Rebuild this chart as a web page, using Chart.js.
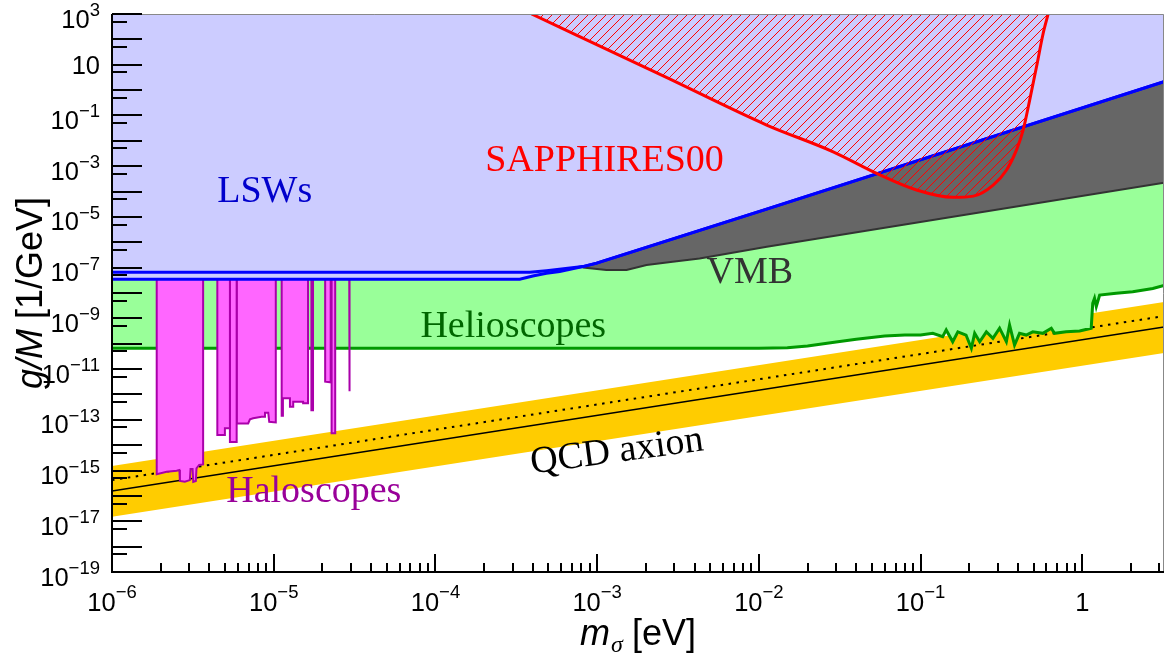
<!DOCTYPE html>
<html>
<head>
<meta charset="utf-8">
<script src="https://cdn.jsdelivr.net/npm/chart.js@4.4.1/dist/chart.umd.min.js"></script>
<style>
  html, body { margin: 0; padding: 0; background: #fff; }
</style>
</head>
<body>
<canvas id="myChart" width="1167" height="662"></canvas>
<script>
// axis ranges
const xMin = 1e-6, xMax = 3.2;
const yMin = 1e-19, yMax = 1e3;

// tick labels (base, exponent)
const xTickExp = [-6, -5, -4, -3, -2, -1, 0];
const xTickLabels = [['10', '\u22126'], ['10', '\u22125'], ['10', '\u22124'], ['10', '\u22123'], ['10', '\u22122'], ['10', '\u22121'], ['1', '']];
const yTickExp = [3, 1, -1, -3, -5, -7, -9, -11, -13, -15, -17, -19];
const yTickLabels = [['10', '3'], ['10', ''], ['10', '\u22121'], ['10', '\u22123'], ['10', '\u22125'], ['10', '\u22127'], ['10', '\u22129'],
  ['10', '\u221211'], ['10', '\u221213'], ['10', '\u221215'], ['10', '\u221217'], ['10', '\u221219']];

// QCD axion band and model lines (straight in log-log)
const qcdMass = [1e-6, 3.2];
const qcdBandUpper = [1.5e-15, 4.4e-9];
const qcdBandLower = [1.5e-17, 4.3e-11];
const qcdSolid = [1.55e-16, 4.6e-10];
const qcdDotted = [4.2e-16, 1.23e-9];

// Helioscopes
const helioMass = [1e-6, 1e-2, 1.5e-2, 2e-2, 3e-2, 4e-2, 6e-2, 8e-2, 0.1, 0.119, 0.137, 0.144, 0.158, 0.170, 0.191, 0.206,
  0.216, 0.232, 0.255, 0.280, 0.308, 0.339, 0.355, 0.381, 0.409, 0.450, 0.494, 0.570, 0.643, 0.673, 0.794, 0.962,
  1.135, 1.16, 1.19, 1.22, 1.28, 1.62, 2.05, 2.73, 3.2];
const helioG = [6.6e-11, 6.6e-11, 6.9e-11, 8.1e-11, 1.17e-10, 1.5e-10, 2.0e-10, 2.2e-10, 2.2e-10, 2.57e-10, 1.9e-10, 3.5e-10,
  1.2e-10, 2.95e-10, 2.2e-10, 6.6e-11, 2.57e-10, 1.2e-10, 2.95e-10, 1.62e-10, 4.1e-10, 1.2e-10, 5.5e-10, 8.9e-11,
  2.57e-10, 2.2e-10, 2.95e-10, 2.57e-10, 4.1e-10, 2.57e-10, 2.95e-10, 3.2e-10, 4.1e-10, 3.9e-9, 6.2e-9, 2.9e-9,
  8.3e-9, 9.8e-9, 1.12e-8, 1.5e-8, 2.0e-8];

// LSWs (two curves)
const lswUpperMass = [1e-6, 3.83e-4, 4.86e-4, 8.15e-4, 9.93e-4, 1.117e-2, 3.2];
const lswUpperG = [6.6e-8, 6.6e-8, 7.6e-8, 1.1e-7, 1.5e-7, 2.04e-5, 2.15];
const lswLowerMass = [1e-6, 3.32e-4, 4.0e-4, 4.86e-4, 5.87e-4, 8.15e-4, 9.93e-4, 1.117e-2, 3.2];
const lswLowerG = [3.5e-8, 3.5e-8, 4.7e-8, 6.0e-8, 7.1e-8, 1.1e-7, 1.5e-7, 2.04e-5, 2.15];

// VMB
const vmbMass = [8.15e-4, 1.14e-3, 1.52e-3, 2.02e-3, 2.93e-3, 4.3e-3, 1.12e-2, 3.2];
const vmbG = [1.02e-7, 8.1e-8, 8.1e-8, 1.26e-7, 1.7e-7, 2.3e-7, 6.6e-7, 2.2e-4];

// SAPPHIRES00
const sappMass = [3.93e-4, 2.68e-3, 1.117e-2, 2.88e-2, 5.35e-2, 9.44e-2, 0.159, 0.212, 0.281, 0.340, 0.392, 0.431, 0.473, 0.521, 0.573, 0.615];
const sappG = [1e3, 3.16, 0.042, 3.7e-3, 5.2e-4, 1.15e-4, 5.9e-5, 6.6e-5, 1.8e-4, 7.1e-4, 4.4e-3, 2.7e-2, 0.41, 8.3, 174, 1e3];

// Haloscopes (mass, coupling) outlines
const haloA = [[1.89e-6, 1e-7], [1.89e-6, 7.1e-16], [2.18e-6, 8.9e-16], [2.51e-6, 9.8e-16], [2.61e-6, 1.05e-15], [2.63e-6, 3.9e-16],
  [2.82e-6, 3.6e-16], [3.03e-6, 4.2e-16], [3.06e-6, 1.15e-15], [3.15e-6, 1.15e-15], [3.18e-6, 3.6e-16], [3.30e-6, 3.9e-16],
  [3.33e-6, 1.23e-15], [3.46e-6, 1.66e-15], [3.66e-6, 1.74e-15], [3.66e-6, 1e-7]];
const haloB = [[4.48e-6, 1e-7], [4.48e-6, 2.5e-14], [4.99e-6, 2.5e-14], [4.99e-6, 4.6e-14], [5.36e-6, 4.6e-14], [5.36e-6, 1e-7]];
const haloC = [[5.36e-6, 1e-7], [5.36e-6, 1.35e-14], [5.9e-6, 1.35e-14], [5.9e-6, 1e-7]];
const haloD = [[5.9e-6, 1e-7], [5.9e-6, 7.2e-14], [6.95e-6, 7.2e-14], [7.13e-6, 1.05e-13], [7.46e-6, 1.15e-13], [8.41e-6, 1.32e-13],
  [8.83e-6, 1.32e-13], [8.83e-6, 1.9e-13], [9.25e-6, 1.9e-13], [9.38e-6, 8.3e-14], [1.03e-5, 7.9e-14], [1.03e-5, 1e-7]];
const haloE = [[1.12e-5, 1e-7], [1.12e-5, 1.45e-13], [1.14e-5, 1.45e-13], [1.14e-5, 7.1e-13], [1.26e-5, 7.1e-13], [1.26e-5, 3.3e-13],
  [1.32e-5, 3.3e-13], [1.32e-5, 5.1e-13], [1.52e-5, 5.1e-13], [1.52e-5, 4.5e-13], [1.63e-5, 4.5e-13], [1.63e-5, 1e-7]];
const haloF = [[1.71e-5, 1e-7], [1.71e-5, 2.4e-13], [1.75e-5, 2.4e-13], [1.75e-5, 1e-7]];
const haloG = [[2.08e-5, 1e-7], [2.08e-5, 3.2e-12], [2.25e-5, 3.0e-12], [2.25e-5, 1e-7]];
const haloH = [[2.28e-5, 1e-7], [2.28e-5, 2.95e-14], [2.40e-5, 2.95e-14], [2.40e-5, 1e-7]];
const haloI = [[2.93e-5, 1e-7], [2.93e-5, 1.35e-12], [2.95e-5, 1.35e-12], [2.95e-5, 1e-7]];

// region labels, placed in data coordinates
const regionLabels = [
  { text: 'LSWs', m: 8.8e-6, g: 4.0e-5, color: '#0000cc', angle: 0 },
  { text: 'SAPPHIRES00', m: 1.11e-3, g: 6.6e-4, color: '#ff0000', angle: 0 },
  { text: 'VMB', m: 8.8e-3, g: 2.4e-8, color: '#333333', angle: 0 },
  { text: 'Helioscopes', m: 3.03e-4, g: 1.8e-10, color: '#006600', angle: 0 },
  { text: 'Haloscopes', m: 1.77e-5, g: 5.9e-17, color: '#990099', angle: 0 },
  { text: 'QCD axion', m: 1.35e-3, g: 2.2e-15, color: '#000000', angle: -7.7 }
];

const ctx = document.getElementById('myChart').getContext('2d');

function zip(ms, gs) {
  return ms.map((m, i) => ({ x: m, y: gs[i] }));
}
function pairs(list) {
  return list.map(p => ({ x: p[0], y: p[1] }));
}

function hatch() {
  const c = document.createElement('canvas');
  c.width = 9; c.height = 9;
  const g = c.getContext('2d');
  g.strokeStyle = '#ff0000';
  g.lineWidth = 1;
  g.beginPath();
  g.moveTo(0, 9); g.lineTo(9, 0);
  g.moveTo(-1, 1); g.lineTo(1, -1);
  g.moveTo(8, 10); g.lineTo(10, 8);
  g.stroke();
  return ctx.createPattern(c, 'repeat');
}

const haloStyle = {
  borderColor: '#aa00aa',
  backgroundColor: '#ff66ff',
  borderWidth: 2,
  fill: 'end',
  order: 5
};

// larger order = drawn further back
const datasets = [
  { label: 'SAPPHIRES00', data: zip(sappMass, sappG), borderColor: '#ff0000', borderWidth: 3,
    backgroundColor: hatch(), fill: 'end', cubicInterpolationMode: 'monotone', order: 1 },
  { label: 'LSW upper', data: zip(lswUpperMass, lswUpperG), borderColor: '#0000ff', borderWidth: 3, fill: false, order: 2 },
  { label: 'LSWs', data: zip(lswLowerMass, lswLowerG), borderColor: '#0000ff', borderWidth: 3,
    backgroundColor: '#ccccff', fill: 'end', order: 3 },
  { label: 'VMB', data: zip(vmbMass, vmbG), borderColor: '#333333', borderWidth: 2,
    backgroundColor: '#666666', fill: 'end', order: 4 },
  Object.assign({ label: 'Halo A', data: pairs(haloA) }, haloStyle),
  Object.assign({ label: 'Halo B', data: pairs(haloB) }, haloStyle),
  Object.assign({ label: 'Halo C', data: pairs(haloC) }, haloStyle),
  Object.assign({ label: 'Halo D', data: pairs(haloD) }, haloStyle),
  Object.assign({ label: 'Halo E', data: pairs(haloE) }, haloStyle),
  Object.assign({ label: 'Halo F', data: pairs(haloF) }, haloStyle),
  Object.assign({ label: 'Halo G', data: pairs(haloG) }, haloStyle),
  Object.assign({ label: 'Halo H', data: pairs(haloH) }, haloStyle),
  Object.assign({ label: 'Halo I', data: pairs(haloI) }, haloStyle),
  { label: 'Helioscopes', data: zip(helioMass, helioG), borderColor: '#009900', borderWidth: 3,
    backgroundColor: '#99ff99', fill: 'end', order: 6 },
  { label: 'QCD dotted', data: zip(qcdMass, qcdDotted), borderColor: '#000000', borderWidth: 2,
    borderDash: [2.5, 5.5], fill: false, order: 7 },
  { label: 'QCD solid', data: zip(qcdMass, qcdSolid), borderColor: '#000000', borderWidth: 1.5, fill: false, order: 7 },
  { label: 'QCD band', data: zip(qcdMass, qcdBandUpper), borderWidth: 0, borderColor: 'rgba(0,0,0,0)',
    backgroundColor: '#ffcc00', fill: 17, order: 8 },
  { label: 'QCD band low', data: zip(qcdMass, qcdBandLower), borderWidth: 0, borderColor: 'rgba(0,0,0,0)', fill: false, order: 8 }
];

function drawPower(c, base, exp, x, baseline, align, big, small, raise) {
  c.font = big + 'px "Liberation Sans", Arial, sans-serif';
  const wb = c.measureText(base).width;
  c.font = small + 'px "Liberation Sans", Arial, sans-serif';
  const we = exp ? c.measureText(exp).width : 0;
  const total = wb + we;
  let x0 = align === 'right' ? x - total : x - total / 2;
  c.textAlign = 'left';
  c.textBaseline = 'alphabetic';
  c.font = big + 'px "Liberation Sans", Arial, sans-serif';
  c.fillText(base, x0, baseline);
  if (exp) {
    c.font = small + 'px "Liberation Sans", Arial, sans-serif';
    c.fillText(exp, x0 + wb, baseline - raise);
  }
}

const labelPlugin = {
  id: 'regionLabels',
  afterDatasetsDraw(chart) {
    const c = chart.ctx;
    const { x, y } = chart.scales;
    c.save();
    c.font = '38px "Liberation Serif", "Times New Roman", serif';
    c.textAlign = 'center';
    c.textBaseline = 'alphabetic';
    for (const l of regionLabels) {
      c.save();
      c.translate(x.getPixelForValue(l.m), y.getPixelForValue(l.g));
      c.rotate(l.angle * Math.PI / 180);
      c.fillStyle = l.color;
      c.fillText(l.text, 0, 0);
      c.restore();
    }
    c.restore();
  }
};

const axesPlugin = {
  id: 'rootAxes',
  afterDraw(chart) {
    const c = chart.ctx;
    const a = chart.chartArea;
    const { x, y } = chart.scales;
    c.save();
    // thin frame on top and right
    c.strokeStyle = '#888888';
    c.lineWidth = 1;
    c.beginPath();
    c.moveTo(a.left, a.top + 0.5); c.lineTo(a.right - 0.5, a.top + 0.5); c.lineTo(a.right - 0.5, a.bottom);
    c.stroke();

    c.strokeStyle = '#000000';
    c.lineWidth = 2;
    c.beginPath();
    // x ticks: decades and 2..9 subdivisions
    for (let e = -6; e <= 0; e++) {
      for (let k = 1; k <= 9; k++) {
        const v = k * Math.pow(10, e);
        if (v > xMax) break;
        const px = Math.round(x.getPixelForValue(v));
        const len = k === 1 ? 18 : 9;
        c.moveTo(px, a.bottom); c.lineTo(px, a.bottom - len);
      }
    }
    // y ticks: decades and 5x subdivisions
    for (let e = -19; e <= 3; e++) {
      const py = Math.round(y.getPixelForValue(Math.pow(10, e)));
      c.moveTo(a.left, py); c.lineTo(a.left + 30, py);
      const v5 = 5 * Math.pow(10, e);
      if (v5 < yMax) {
        const p5 = Math.round(y.getPixelForValue(v5));
        c.moveTo(a.left, p5); c.lineTo(a.left + 15, p5);
      }
    }
    c.stroke();

    // axis lines
    c.beginPath();
    c.moveTo(a.left, a.top); c.lineTo(a.left, a.bottom); c.lineTo(a.right, a.bottom);
    c.stroke();

    // tick labels
    c.fillStyle = '#000000';
    xTickExp.forEach((e, i) => {
      const px = x.getPixelForValue(Math.pow(10, e));
      drawPower(c, xTickLabels[i][0], xTickLabels[i][1], px, a.bottom + 39, 'center', 25.5, 18.5, 13);
    });
    yTickExp.forEach((e, i) => {
      const py = y.getPixelForValue(Math.pow(10, e));
      const lab = yTickLabels[i];
      const base = lab[1] ? py + 13.5 : py + 9.5;
      drawPower(c, lab[0], lab[1], 100, base, 'right', 25.5, 18.5, 11.5);
    });

    // x title: m_sigma [eV]
    const it = 'italic 36px "Liberation Sans", Arial, sans-serif';
    const rg = '36px "Liberation Sans", Arial, sans-serif';
    const sub = 'italic 24px "Liberation Serif", "Times New Roman", serif';
    c.textAlign = 'left';
    c.textBaseline = 'alphabetic';
    c.font = it; const wm = c.measureText('m').width;
    c.font = sub; const ws = c.measureText('\u03c3').width;
    c.font = rg; const wr = c.measureText(' [eV]').width;
    const x0 = (a.left + a.right) / 2 - (wm + ws + wr) / 2;
    const xb = 645;
    c.font = it; c.fillText('m', x0, xb);
    c.font = sub; c.fillText('\u03c3', x0 + wm + 1, xb + 7);
    c.font = rg; c.fillText(' [eV]', x0 + wm + ws, xb);

    // y title: g/M [1/GeV]
    c.save();
    c.translate(42, 293);
    c.rotate(-Math.PI / 2);
    c.font = it; const wg = c.measureText('g/M').width;
    c.font = rg; const wu = c.measureText(' [1/GeV]').width;
    const y0 = -(wg + wu) / 2;
    c.font = it; c.fillText('g/M', y0, 0);
    c.font = rg; c.fillText(' [1/GeV]', y0 + wg, 0);
    c.restore();

    c.restore();
  }
};

const myChart = new Chart(ctx, {
  type: 'line',
  data: { datasets: datasets },
  options: {
    responsive: false,
    animation: false,
    events: [],
    layout: { padding: { left: 112, right: 3, top: 14, bottom: 90 } },
    elements: { point: { radius: 0, hoverRadius: 0 }, line: { tension: 0 } },
    scales: {
      x: { type: 'logarithmic', min: xMin, max: xMax, display: false },
      y: { type: 'logarithmic', min: yMin, max: yMax, display: false }
    },
    plugins: {
      legend: { display: false },
      tooltip: { enabled: false }
    }
  },
  plugins: [labelPlugin, axesPlugin]
});
</script>
</body>
</html>
